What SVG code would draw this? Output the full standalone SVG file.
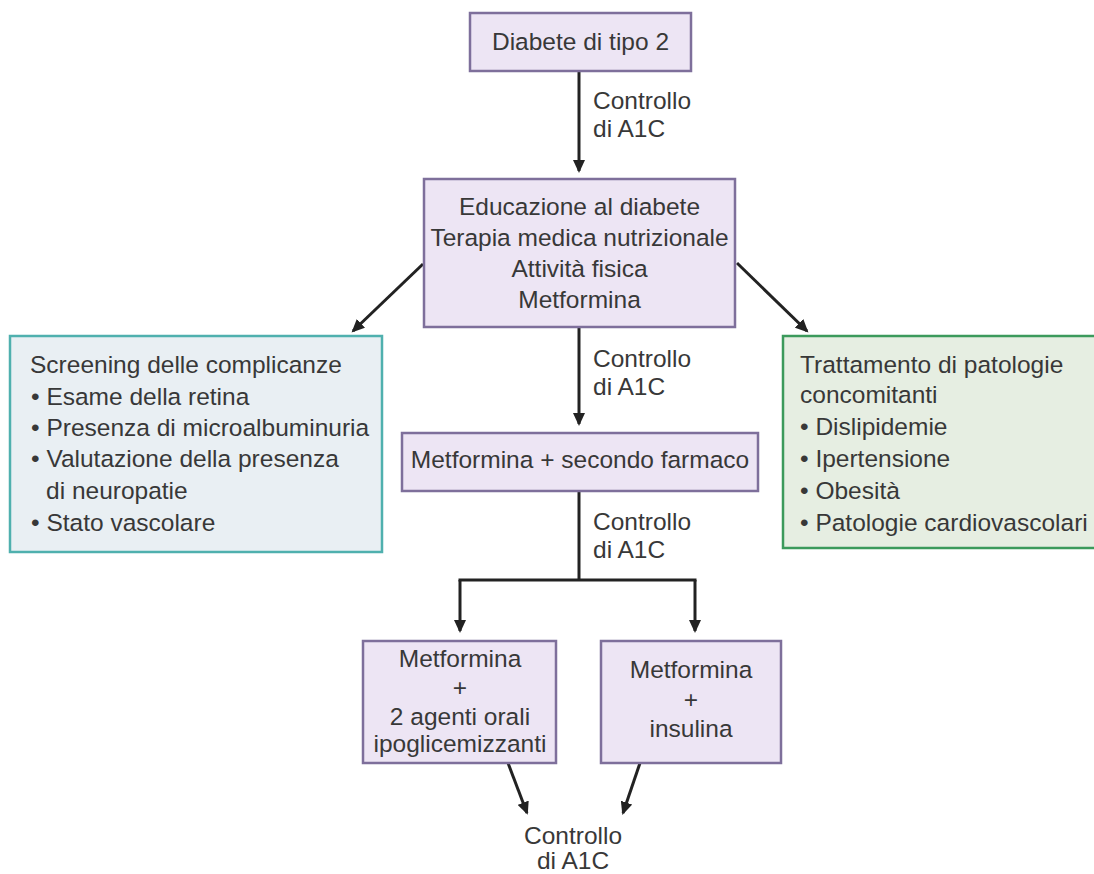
<svg xmlns="http://www.w3.org/2000/svg" width="1094" height="874" viewBox="0 0 1094 874">
<style>
text { font-family: "Liberation Sans", Arial, sans-serif; font-size: 24.5px; fill: #383838; }
.c { text-anchor: middle; }
.p { fill: #ede5f4; stroke: #7e6f9b; stroke-width: 2.5; }
.b { fill: #e9eff3; stroke: #4fb0ae; stroke-width: 2.5; }
.g { fill: #e6eee2; stroke: #3c9a5c; stroke-width: 2.5; }
.ln { fill: none; stroke: #222; stroke-width: 3; }
</style>
<defs>
<marker id="ah" markerUnits="userSpaceOnUse" markerWidth="14" markerHeight="12" refX="11" refY="6" orient="auto">
<path d="M0,0 L13,6 L0,12 z" fill="#222"/>
</marker>
</defs>
<rect width="1094" height="874" fill="#ffffff"/>

<g id="connectors">
<line class="ln" x1="579" y1="71" x2="579" y2="171" marker-end="url(#ah)"/>
<text x="593" y="109">Controllo</text>
<text x="593" y="137">di A1C</text>
<line class="ln" x1="423" y1="264" x2="353" y2="331" marker-end="url(#ah)"/>
<line class="ln" x1="737" y1="263" x2="807" y2="331" marker-end="url(#ah)"/>
<line class="ln" x1="579" y1="327" x2="579" y2="424" marker-end="url(#ah)"/>
<text x="593" y="367">Controllo</text>
<text x="593" y="395">di A1C</text>
<polyline class="ln" points="579,491 579,580"/>
<text x="593" y="530">Controllo</text>
<text x="593" y="558">di A1C</text>
<polyline class="ln" points="458.5,580 696.5,580"/>
<line class="ln" x1="460" y1="580" x2="460" y2="631" marker-end="url(#ah)"/>
<line class="ln" x1="695" y1="580" x2="695" y2="631" marker-end="url(#ah)"/>
<line class="ln" x1="508" y1="763" x2="527" y2="813" marker-end="url(#ah)"/>
<line class="ln" x1="640" y1="763" x2="623" y2="813" marker-end="url(#ah)"/>
<text class="c" x="573" y="844">Controllo</text>
<text class="c" x="573" y="869">di A1C</text>
</g>

<g id="n-diabete">
<rect class="p" x="470" y="13" width="221" height="58"/>
<text class="c" x="580.5" y="50">Diabete di tipo 2</text>
</g>

<g id="n-educazione">
<rect class="p" x="424" y="179" width="311" height="148"/>
<text class="c" x="579.5" y="215">Educazione al diabete</text>
<text class="c" x="579.5" y="246">Terapia medica nutrizionale</text>
<text class="c" x="579.5" y="277">Attività fisica</text>
<text class="c" x="579.5" y="308">Metformina</text>
</g>

<g id="n-screening">
<rect class="b" x="10" y="336" width="372" height="216"/>
<text x="30" y="373">Screening delle complicanze</text>
<text x="31" y="405">• Esame della retina</text>
<text x="31" y="436">• Presenza di microalbuminuria</text>
<text x="31" y="467">• Valutazione della presenza</text>
<text x="46" y="499">di neuropatie</text>
<text x="31" y="531">• Stato vascolare</text>
</g>

<g id="n-trattamento">
<rect class="g" x="783" y="336" width="315" height="212"/>
<text x="800" y="373">Trattamento di patologie</text>
<text x="800" y="403">concomitanti</text>
<text x="800" y="435">• Dislipidemie</text>
<text x="800" y="467">• Ipertensione</text>
<text x="800" y="499">• Obesità</text>
<text x="800" y="531">• Patologie cardiovascolari</text>
</g>

<g id="n-secondo">
<rect class="p" x="402" y="433" width="356" height="58"/>
<text class="c" x="580" y="468">Metformina + secondo farmaco</text>
</g>

<g id="n-orali">
<rect class="p" x="363" y="641" width="193" height="122"/>
<text class="c" x="460" y="667">Metformina</text>
<text class="c" x="460" y="696">+</text>
<text class="c" x="460" y="725">2 agenti orali</text>
<text class="c" x="460" y="752">ipoglicemizzanti</text>
</g>

<g id="n-insulina">
<rect class="p" x="601" y="641" width="180" height="122"/>
<text class="c" x="691" y="678">Metformina</text>
<text class="c" x="691" y="708">+</text>
<text class="c" x="691" y="737">insulina</text>
</g>
</svg>
